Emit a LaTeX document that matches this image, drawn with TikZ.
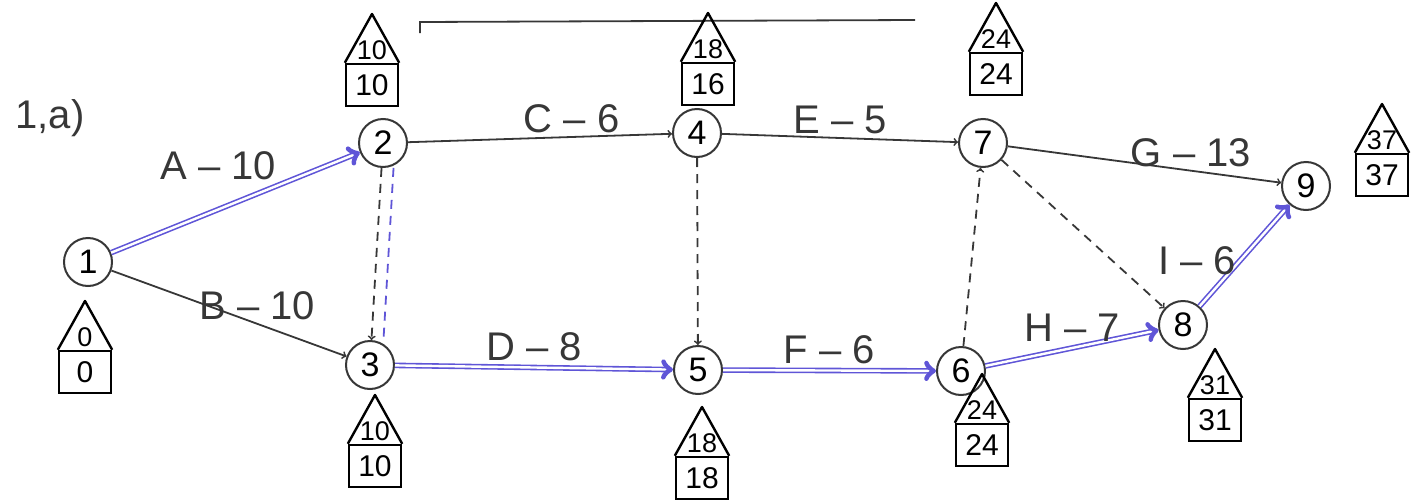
\documentclass[tikz,border=0pt]{standalone}
\usepackage{fontspec}
\setmainfont{Liberation Sans}
\usetikzlibrary{arrows}
\definecolor{pen}{RGB}{55,55,55}
\definecolor{critblue}{RGB}{95,85,215}

% house: name, x, y (box centre), roof value, box value
\newcommand{\house}[5]{%
\node[housebox](#1) at (#2,#3) {#5};
\coordinate (#1apex) at (#2,{#3-71});
\draw[roofline] (#1.north west) -- (#1apex) -- (#1.north east);
\node[roofnum](#1t) at (#2,{#3-35}) {#4};
}

\begin{document}
\begin{tikzpicture}[x=1pt,y=-1pt]
\tikzset{vertex/.style = {shape=circle,draw=pen,line width=2pt,minimum size=48pt,inner sep=0pt,font=\fontsize{34}{36}\selectfont}}
\tikzset{edge/.style = {->,draw=pen,line width=1.8pt}}
\tikzset{dummy/.style = {->,draw=pen,line width=1.8pt,dash pattern=on 9pt off 7pt}}
\tikzset{crit/.style = {->,draw=critblue,line width=1.6pt,double=white,double distance=2.4pt}}
\tikzset{lbl/.style = {font=\fontsize{40}{44}\selectfont,text=pen}}
\tikzset{housebox/.style = {draw,line width=2.4pt,minimum width=52pt,minimum height=42pt,inner sep=0pt,font=\fontsize{30}{32}\selectfont}}
\tikzset{roofline/.style = {line width=2.4pt,line join=round}}
\tikzset{roofnum/.style = {inner sep=0pt,font=\fontsize{27}{29}\selectfont}}
\useasboundingbox (0,0) rectangle (1425,501);

\node[lbl](title) at (50,118) {1,a)};
\draw[line width=1.8pt,draw=pen] (420,33) -- (420,22) -- (915,20);

\node[vertex](n1) at (88,262) {1};
\node[vertex](n2) at (383,143) {2};
\node[vertex](n3) at (370,365) {3};
\node[vertex](n4) at (697,133) {4};
\node[vertex](n5) at (698,370) {5};
\node[vertex](n6) at (961,371) {6};
\node[vertex](n7) at (983,143) {7};
\node[vertex](n8) at (1183,325) {8};
\node[vertex](n9) at (1306,186) {9};

\house{h1}{85}{372}{0}{0}
\house{h2}{372}{85}{10}{10}
\house{h3}{375}{466}{10}{10}
\house{h4}{708}{84}{18}{16}
\house{h5}{702}{478}{18}{18}
\house{h6}{982}{445}{24}{24}
\house{h7}{996}{74}{24}{24}
\house{h8}{1215}{420}{31}{31}
\house{h9}{1382}{175}{37}{37}

\draw[crit] (n1) -- (n2) node[lbl, pos=0.68, above left=0pt] {A -- 10};
\draw[edge] (n1) -- (n3) node[lbl, pos=0.62, above] {B -- 10};
\draw[edge] (n2) -- (n4) node[lbl, pos=0.62, above] {C -- 6};
\draw[edge] (n4) -- (n7) node[lbl, midway, above] {E -- 5};
\draw[crit] (n3) -- (n5) node[lbl, midway, above=2pt] {D -- 8};
\draw[crit] (n5) -- (n6) node[lbl, midway, above=2pt] {F -- 6};
\draw[edge] (n7) -- (n9) node[lbl, pos=0.67, above] {G -- 13};
\draw[crit] (n6) -- (n8) node[lbl, midway, above=2pt] {H -- 7};
\draw[crit] (n8) -- (n9) node[lbl, pos=0.45, left] {I -- 6};
\draw[dummy] (n2) -- (n3);
\draw[dummy, draw=critblue, -, transform canvas={xshift=12pt}] (n2) -- (n3);
\draw[dummy] (n4) -- (n5);
\draw[dummy] (n6) -- (n7);
\draw[dummy] (n7) -- (n8);
\end{tikzpicture}
\end{document}
